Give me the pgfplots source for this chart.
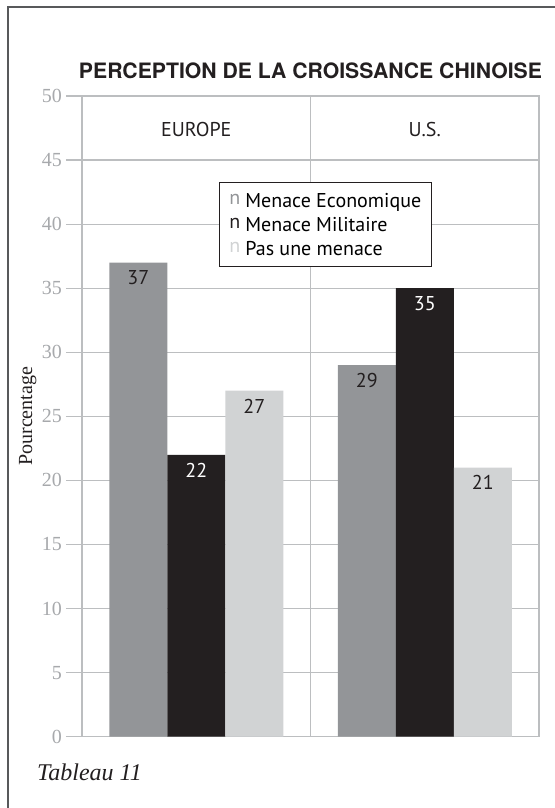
\documentclass[border=0pt]{standalone}
\usepackage{fontspec}
\setmainfont{Liberation Serif}
\setsansfont{PT Sans}
\newfontfamily\titlefont{TeX Gyre Heros}
\usepackage{pgfplots}
\pgfplotsset{compat=1.18}
\definecolor{cA}{HTML}{939598}
\definecolor{cB}{HTML}{231F20}
\definecolor{cC}{HTML}{D1D3D4}
\definecolor{gridc}{HTML}{BCBEC0}
\definecolor{tickc}{HTML}{A7A9AC}
\definecolor{framec}{HTML}{58595B}
\newcommand{\sfL}{\sffamily\fontsize{20bp}{24bp}\selectfont}
\begin{document}
\begin{tikzpicture}
\path[use as bounding box] (0,0) rectangle (555bp,808bp);
\draw[framec, line width=2bp] (7.5bp,0) -- (7.5bp,800.5bp) -- (555bp,800.5bp);
\begin{axis}[
  at={(82bp,71.3bp)}, anchor=south west,
  scale only axis, width=457bp, height=640.7bp,
  ybar=0pt, bar width=58bp,
  xmin=-0.5, xmax=1.5, ymin=0, ymax=50,
  xtick=\empty,
  extra x ticks={0.5}, extra x tick labels={},
  extra x tick style={grid=major, major tick length=0pt},
  ytick={0,5,...,50}, ytick pos=left,
  ymajorgrids,
  major grid style={gridc, line width=1.2bp},
  axis line style={gridc, line width=1.2bp},
  ytick style={gridc, line width=1.2bp},
  tick align=outside, major tick length=16bp,
  /pgf/number format/assume math mode=true,
  yticklabel style={font=\rmfamily\fontsize{20bp}{20bp}\selectfont, text=tickc, anchor=east, inner sep=0pt, xshift=-4bp},
  ylabel={Pourcentage},
  ylabel style={at={(axis description cs:-0.1094,0.5)}, anchor=base, inner sep=0pt, font=\rmfamily\fontsize{20bp}{20bp}\selectfont, text=cB},
  title={PERCEPTION DE LA CROISSANCE CHINOISE},
  title style={font=\titlefont\bfseries\fontsize{21.2bp}{22bp}\selectfont, at={(axis description cs:0.5,1)}, anchor=base, inner sep=0pt, yshift=12bp, text=cB},
  nodes near coords,
  every node near coord/.append style={font=\sfL, anchor=base, yshift=-22.3bp, inner sep=0pt},
  legend style={at={(0.2998,0.8663)}, anchor=north west, draw=cB, line width=0.8bp,
    inner xsep=10bp, inner ysep=7bp, row sep=2bp, column sep=5bp, font=\sfL,
    nodes={inner sep=0pt, text height=15bp, text depth=4bp}},
  legend cell align=left,
]
\addplot[fill=cA, draw=none, nodes near coords style={text=cB},
  legend image code/.code={\node[anchor=mid west, inner sep=0pt, text=cA, font=\sfL]{n};}]
  coordinates {(0,37) (1,29)};
\addlegendentry{Menace Economique}
\addplot[fill=cB, draw=none, nodes near coords style={text=white},
  legend image code/.code={\node[anchor=mid west, inner sep=0pt, text=cB, font=\sfL]{n};}]
  coordinates {(0,22) (1,35)};
\addlegendentry{Menace Militaire}
\addplot[fill=cC, draw=none, nodes near coords style={text=cB},
  legend image code/.code={\node[anchor=mid west, inner sep=0pt, text=cC, font=\sfL]{n};}]
  coordinates {(0,27) (1,21)};
\addlegendentry{Pas une menace}
\node[font=\sfL, anchor=base, text=cB, inner sep=0pt] at (axis cs:0,46.84) {EUROPE};
\node[font=\sfL, anchor=base, text=cB, inner sep=0pt] at (axis cs:1,46.84) {U.S.};
\end{axis}
\node[anchor=base west, inner sep=0pt, text=cB, font=\rmfamily\itshape\fontsize{24bp}{24bp}\selectfont] at (37bp,28bp) {Tableau 11};
\end{tikzpicture}
\end{document}
